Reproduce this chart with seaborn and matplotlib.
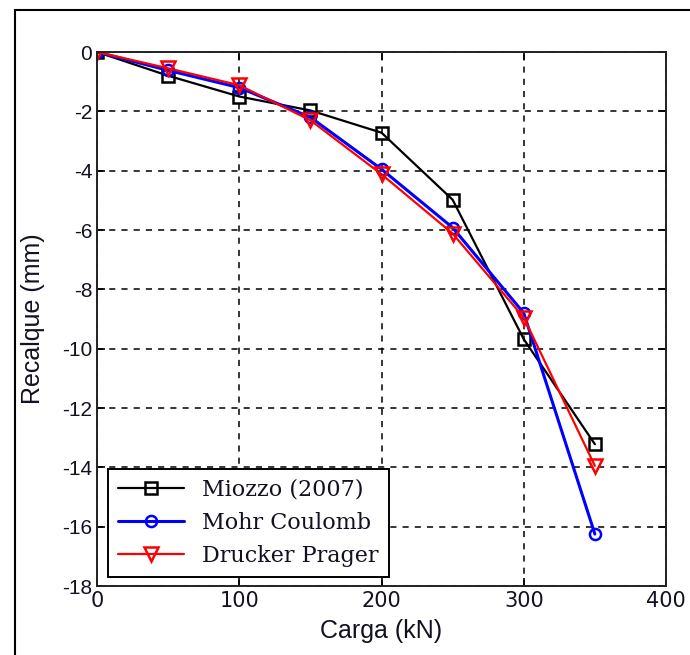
import matplotlib
matplotlib.use("Agg")
import matplotlib.pyplot as plt
import numpy as np
import pandas as pd
import seaborn as sns
from matplotlib.patches import Rectangle

# load (kN) and settlement (mm)
carga = [0, 50, 100, 150, 200, 250, 300, 350]
miozzo = [0, -0.8, -1.5, -1.97, -2.72, -4.98, -9.68, -13.22]
mohr = [0, -0.62, -1.2, -2.2, -3.95, -5.92, -8.8, -16.25]
drucker = [0, -0.55, -1.12, -2.3, -4.12, -6.12, -8.95, -13.95]

series_names = ["Miozzo (2007)", "Mohr Coulomb", "Drucker Prager"]

sns.set_style("ticks")
plt.rcParams['font.family'] = ['Liberation Sans', 'DejaVu Sans']
plt.rcParams['axes.unicode_minus'] = False
plt.rcParams['text.color'] = "#111122"
plt.rcParams['axes.labelcolor'] = "#111122"

fig = plt.figure(figsize=(6.9, 6.55), dpi=100)
ax = fig.add_axes([97 / 690, 1 - 586 / 655, (666 - 97) / 690, (586 - 52) / 655])

styles = {
    "Miozzo (2007)": dict(color="black", marker="s", ms=9, lw=1.6),
    "Mohr Coulomb": dict(color="blue", marker="o", ms=8, lw=2.2),
    "Drucker Prager": dict(color="red", marker="v", ms=10, lw=1.6),
}

for name, vals in zip(series_names, [miozzo, mohr, drucker]):
    st = styles[name]
    df = pd.DataFrame({"Carga (kN)": carga, "Recalque (mm)": vals})
    sns.lineplot(data=df, x="Carga (kN)", y="Recalque (mm)", ax=ax,
                 color=st["color"], marker=st["marker"], markersize=st["ms"],
                 linewidth=st["lw"], mfc="none", mec=st["color"], mew=1.8,
                 label=name)

ax.set_xlim(0, 400)
ax.set_ylim(-18, 0)
ax.set_xticks(np.arange(0, 401, 100))
ax.set_yticks(np.arange(-18, 1, 2))
ax.grid(True, color="black", linestyle=(0, (4, 4)), linewidth=1.1)
ax.tick_params(direction="in", length=6, width=1.2, top=True, right=True,
               colors="black", labelsize=15, labelcolor="#111122")
for lab in ax.get_xticklabels():
    lab.set_family("DejaVu Sans")
for sp in ax.spines.values():
    sp.set_linewidth(1.4)
    sp.set_color("#222222")

ax.set_xlabel("Carga (kN)", fontsize=18, labelpad=6)
ax.set_ylabel("Recalque (mm)", fontsize=18, labelpad=12)

leg = ax.legend(loc="lower left", bbox_to_anchor=(0.019, 0.017), borderaxespad=0,
                fancybox=False, framealpha=1, edgecolor="black", handlelength=3,
                prop={"family": "DejaVu Serif", "size": 16}, borderpad=0.45,
                labelspacing=0.5)
leg.get_frame().set_linewidth(1.4)

# outer frame of the screenshot
fig.patches.append(Rectangle((15 / 690, -0.01), 1.2, 1 - 10 / 655 + 0.01,
                             transform=fig.transFigure, fill=False,
                             edgecolor="black", linewidth=1.5))

fig.savefig("out.png", dpi=100)
